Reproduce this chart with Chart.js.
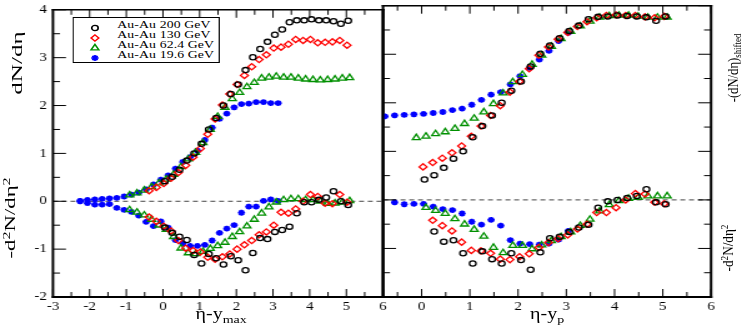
<!DOCTYPE html>
<html><head><meta charset="utf-8">
<script src="https://cdn.jsdelivr.net/npm/chart.js@4.4.1/dist/chart.umd.min.js"></script>
<style>
html,body{margin:0;padding:0;background:#fff;overflow:hidden;width:747px;height:327px}
#stage{position:absolute;left:0;top:0;width:598px;height:327px;transform:scaleX(1.2492);transform-origin:0 0;font-family:"Liberation Serif","Times New Roman",serif;color:#000}
#stage canvas{position:absolute;top:0}
.rt{position:absolute;white-space:nowrap;line-height:1;transform-origin:50% 50%}
.xt{position:absolute;white-space:nowrap;line-height:16px;height:16px}
.sp{font-size:70%;vertical-align:0.45em;line-height:0}
.sb{font-size:70%;vertical-align:-0.35em;line-height:0}
.lbox{position:absolute;left:58.4px;top:17px;width:117.7px;height:46px;border:1px solid #000;box-sizing:border-box;background:#fff}
.lt{position:absolute;height:11px;line-height:11px;font-size:11px;white-space:nowrap;letter-spacing:0.1px}
.lm{position:absolute;width:10px;height:10px;overflow:visible}
</style></head>
<body>
<div id="stage">
  <canvas id="cL" width="320" height="327" style="left:0px"></canvas>
  <canvas id="cR" width="302" height="327" style="left:296px"></canvas>

  <div class="rt" style="left:14.4px;top:63px;font-size:12px;transform:translate(-50%,-50%) rotate(-90deg) scaleX(2.1)">dN/dη</div>
  <div class="rt" style="left:7.5px;top:218px;font-size:12px;transform:translate(-50%,-50%) rotate(-90deg) scaleX(1.9)">-d<span class="sp">2</span>N/dη<span class="sp">2</span></div>
  <div class="rt" style="left:586.5px;top:68px;font-size:11px;transform:translate(-50%,-50%) rotate(-90deg) scaleX(1.15)">-(dN/dη)<span class="sb">shifted</span></div>
  <div class="rt" style="left:582.5px;top:248px;font-size:11px;transform:translate(-50%,-50%) rotate(-90deg) scaleX(1.2)">-d<span class="sp">2</span>N/dη<span class="sp">2</span></div>

  <div class="xt" style="left:177px;top:305.5px;font-size:16px;transform:translateX(-50%)">η-y<span class="sb">max</span></div>
  <div class="xt" style="left:438px;top:305.5px;font-size:16px;transform:translateX(-50%)">η-y<span class="sb">p</span></div>

  <div class="lbox"></div>
  <div id="legendRows"></div>
</div>
<script>
// ---------- tick labels / axis ranges ----------
const LEFT_X_TICKS  = [-3,-2,-1,0,1,2,3,4,5,6];
const LEFT_X_MINOR  = [-2.5,-1.5,-0.5,0.5,1.5,2.5,3.5,4.5,5.5];
const RIGHT_X_TICKS = [0,1,2,3,4,5,6];
const RIGHT_X_MINOR = [-0.5,0.5,1.5,2.5,3.5,4.5,5.5];
const Y_TICKS = [-2,-1,0,1,2,3,4];
const Y_MINOR = [-1.5,-0.5,0.5,1.5,2.5,3.5];
const LEFT_X_RANGE  = [-3, 6];
const RIGHT_X_RANGE = [-0.8, 6];
const Y_RANGE = [-2, 4];
const SERIES_LABELS = ['Au-Au 200 GeV','Au-Au 130 GeV','Au-Au 62.4 GeV','Au-Au 19.6 GeV'];

// ---------- left panel: eta - y_max ----------
const L_X_200 = [0.05,0.25,0.45,0.65,0.85,1.05,1.25,1.45,1.65,1.85,2.05,2.25,2.45,2.65,2.85,3.05,3.25,3.45,3.65,3.85,4.05,4.25,4.45,4.65,4.85,5.05];
const L_DN_200 = [0.42,0.51,0.66,0.85,1.00,1.20,1.50,1.74,2.00,2.24,2.44,2.74,3.01,3.18,3.33,3.48,3.59,3.74,3.78,3.78,3.80,3.78,3.78,3.76,3.71,3.77];
const L_D2_200 = [-0.55,-0.66,-0.74,-0.81,-1.12,-1.30,-1.10,-1.19,-1.32,-1.15,-1.23,-1.44,-1.08,-0.77,-0.79,-0.64,-0.60,-0.53,-0.25,-0.02,-0.02,0.03,0.08,0.21,0.00,-0.08];

const L_X_130 = [-0.38,-0.18,0.02,0.22,0.42,0.62,0.82,1.02,1.22,1.42,1.62,1.82,2.02,2.22,2.42,2.62,2.82,3.02,3.22,3.42,3.62,3.82,4.02,4.22,4.42,4.62,4.82,5.02];
const L_DN_130 = [0.22,0.29,0.37,0.48,0.60,0.75,0.92,1.10,1.40,1.72,2.01,2.24,2.44,2.63,2.81,2.96,3.06,3.20,3.22,3.28,3.38,3.36,3.38,3.31,3.32,3.33,3.36,3.26];
const L_D2_130 = [-0.33,-0.42,-0.52,-0.62,-0.82,-0.98,-1.03,-1.06,-1.17,-1.21,-1.16,-1.10,-1.00,-0.91,-0.82,-0.70,-0.64,-0.50,-0.23,-0.25,-0.16,0.00,0.14,0.10,-0.04,-0.05,0.14,-0.02];

const L_X_624 = [-0.91,-0.71,-0.51,-0.31,-0.11,0.09,0.29,0.49,0.69,0.89,1.09,1.29,1.49,1.69,1.89,2.09,2.29,2.49,2.69,2.89,3.09,3.29,3.49,3.69,3.89,4.09,4.29,4.49,4.69,4.89,5.09];
const L_DN_624 = [0.13,0.17,0.23,0.30,0.38,0.46,0.56,0.72,0.88,1.02,1.22,1.50,1.77,1.96,2.14,2.27,2.39,2.48,2.57,2.59,2.61,2.59,2.59,2.57,2.55,2.54,2.53,2.54,2.55,2.57,2.58];
const L_D2_624 = [-0.18,-0.23,-0.29,-0.38,-0.50,-0.59,-0.74,-0.98,-1.08,-1.10,-1.05,-0.99,-0.93,-0.86,-0.74,-0.64,-0.52,-0.38,-0.25,-0.12,-0.02,0.03,0.05,0.05,0.03,0.03,0.00,-0.05,-0.04,-0.02,0.01];

const L_X_196 = [-2.26,-2.06,-1.86,-1.66,-1.46,-1.26,-1.06,-0.86,-0.66,-0.46,-0.26,-0.06,0.14,0.34,0.54,0.74,0.94,1.14,1.34,1.54,1.74,1.94,2.14,2.34,2.54,2.74,2.94,3.14];
const L_DN_196 = [0.01,0.03,0.04,0.05,0.06,0.07,0.10,0.14,0.18,0.25,0.35,0.45,0.54,0.68,0.82,0.92,1.06,1.28,1.54,1.72,1.83,1.96,2.03,2.04,2.07,2.07,2.05,2.05];
const L_D2_196 = [0.00,-0.04,-0.07,-0.07,-0.06,-0.14,-0.18,-0.22,-0.30,-0.43,-0.52,-0.42,-0.55,-0.81,-0.88,-0.93,-0.93,-0.91,-0.82,-0.66,-0.57,-0.50,-0.24,-0.11,-0.11,0.01,0.04,0.01];

// ---------- right panel: eta - y_p ----------
const R_X_200 = [0.06,0.26,0.46,0.66,0.86,1.06,1.26,1.46,1.66,1.86,2.06,2.26,2.46,2.66,2.86,3.06,3.26,3.46,3.66,3.86,4.06,4.26,4.46,4.66,4.86,5.06];
const R_DN_200 = [0.42,0.51,0.66,0.85,1.00,1.29,1.52,1.74,2.00,2.25,2.44,2.75,3.01,3.18,3.33,3.48,3.59,3.72,3.77,3.78,3.80,3.79,3.78,3.76,3.69,3.78];
const R_D2_200 = [null,-0.65,-0.86,-0.83,-1.10,-1.31,-1.06,-1.22,-1.31,-1.10,-1.24,-1.44,-1.08,-0.79,-0.76,-0.66,-0.57,-0.51,-0.16,-0.03,0.00,0.04,0.08,0.22,-0.05,-0.09];

const R_X_130 = [0.03,0.23,0.43,0.63,0.83,1.03,1.23,1.43,1.63,1.83,2.03,2.23,2.43,2.63,2.83,3.03,3.23,3.43,3.63,3.83,4.03,4.23,4.43,4.63,4.83,5.03];
const R_DN_130 = [0.68,0.77,0.86,0.97,1.11,1.31,1.52,1.74,1.94,2.22,2.44,2.70,2.98,3.15,3.31,3.45,3.57,3.67,3.75,3.80,3.81,3.80,3.80,3.77,3.75,3.78];
const R_D2_130 = [null,-0.42,-0.53,-0.64,-0.87,-1.04,-1.05,-1.10,-1.22,-1.23,-1.17,-1.11,-0.98,-0.88,-0.80,-0.72,-0.60,-0.50,-0.26,-0.26,-0.16,0.00,0.13,0.12,-0.05,-0.08];

const R_X_624 = [-0.11,0.09,0.29,0.49,0.69,0.89,1.09,1.29,1.49,1.69,1.89,2.09,2.29,2.49,2.69,2.89,3.09,3.29,3.49,3.69,3.89,4.09,4.29,4.49,4.69,4.89,5.09];
const R_DN_624 = [1.28,1.31,1.36,1.40,1.47,1.57,1.68,1.81,1.98,2.20,2.43,2.58,2.79,2.98,3.16,3.32,3.47,3.58,3.68,3.76,3.79,3.80,3.80,3.78,3.76,3.76,3.76];
const R_D2_624 = [null,-0.16,-0.22,-0.28,-0.39,-0.50,-0.61,-0.75,-0.98,-1.09,-0.94,-0.94,-1.01,-0.93,-0.84,-0.76,-0.66,-0.53,-0.40,-0.23,-0.10,-0.02,0.03,0.05,0.08,0.08,0.08];

const R_X_196 = [-0.76,-0.56,-0.36,-0.16,0.04,0.24,0.44,0.64,0.84,1.04,1.24,1.44,1.64,1.84,2.04,2.24,2.44,2.64,2.84,3.04];
const R_DN_196 = [1.72,1.74,1.75,1.76,1.77,1.79,1.81,1.85,1.88,1.96,2.06,2.17,2.22,2.38,2.55,2.72,2.89,3.07,3.27,3.44];
const R_D2_196 = [null,-0.05,-0.09,-0.08,-0.08,-0.14,-0.19,-0.21,-0.28,-0.45,-0.51,-0.41,-0.53,-0.83,-0.90,-0.91,-0.92,-0.90,-0.82,-0.64];

// ---------- styles ----------
const STYLES = [
  {pointStyle:'circle',   radius:2.6, color:'#000000', bw:1.3},
  {pointStyle:'rectRot',  radius:3.1, color:'#ff0000', bw:1.3},
  {pointStyle:'triangle', radius:3.6, color:'#009000', bw:1.3},
  {pointStyle:'star',     radius:2.9, color:'#0000ff', bw:1.7}
];
const FONT = '"Liberation Serif","Times New Roman",serif';

function pts(xs, ys){ return xs.map((x,i)=>({x:x, y:ys[i]})); }
function ds(xs, ys, st){
  return {data:pts(xs,ys), showLine:false, pointStyle:st.pointStyle, pointRadius:st.radius,
          pointBorderColor:st.color, borderColor:st.color, pointBackgroundColor:'rgba(0,0,0,0)',
          backgroundColor:'rgba(0,0,0,0)', pointBorderWidth:st.bw};
}
function zeroLine(range){
  return {data:[{x:range[0],y:0},{x:range[1],y:0}], showLine:true, pointRadius:0,
          borderColor:'#444', borderWidth:1, borderDash:[4,3]};
}

const frameTicks = {
  id:'frameTicks',
  afterDatasetsDraw(chart, args, o){
    const ctx = chart.ctx, a = chart.chartArea, xs = chart.scales.x, ys = chart.scales.y;
    ctx.save(); ctx.strokeStyle = '#000'; ctx.setLineDash([]);
    const seg = (x1,y1,x2,y2,w)=>{ctx.lineWidth=w;ctx.beginPath();ctx.moveTo(x1,y1);ctx.lineTo(x2,y2);ctx.stroke();};
    const xt = (vals,len)=>vals.forEach(v=>{const p=xs.getPixelForValue(v); seg(p,a.bottom,p,a.bottom-len,1); seg(p,a.top,p,a.top+len,1);});
    const yt = (vals,len)=>vals.forEach(v=>{const p=ys.getPixelForValue(v);
        if(o.left) seg(a.left,p,a.left+len,p,1); if(o.right) seg(a.right,p,a.right-len,p,1);});
    xt(o.xMajor,8); xt(o.xMinor,5); yt(Y_TICKS,10.4); yt(Y_MINOR,5.6);
    seg(a.left-1,a.top,a.right+1,a.top,1.5);
    seg(a.left-1,a.bottom,a.right+1,a.bottom,2);
    seg(a.left,a.top-0.75,a.left,a.bottom+1,2);
    seg(a.right,a.top-0.75,a.right,a.bottom+1,2);
    ctx.restore();
  }
};

function makeChart(id, datasets, xRange, xTicks, xMinor, padding, showY, leftT, rightT){
  return new Chart(document.getElementById(id), {
    type:'scatter',
    data:{datasets:datasets},
    options:{
      responsive:false, animation:false, devicePixelRatio:1, events:[],
      layout:{padding:padding},
      plugins:{legend:{display:false}, tooltip:{enabled:false},
               frameTicks:{xMajor:xTicks, xMinor:xMinor, left:leftT, right:rightT}},
      scales:{
        x:{type:'linear', min:xRange[0], max:xRange[1],
           grid:{display:false, drawTicks:false}, border:{display:false},
           ticks:{font:{family:FONT, size:12}, color:'#000', padding:3, autoSkip:false, maxRotation:0},
           afterBuildTicks:s=>{ s.ticks = xTicks.map(v=>({value:v})); },
           afterFit:s=>{ s.height = 30; }},
        y:{type:'linear', min:Y_RANGE[0], max:Y_RANGE[1], display:showY,
           grid:{display:false, drawTicks:false}, border:{display:false},
           ticks:{font:{family:FONT, size:12, lineHeight:0.8}, color:'#000', padding:5, autoSkip:false},
           afterBuildTicks:s=>{ s.ticks = Y_TICKS.map(v=>({value:v})); },
           afterFit:s=>{ s.width = showY ? 42.4 : 0; }}
      }
    },
    plugins:[frameTicks]
  });
}

const leftSets = [
  ds(L_X_200,L_DN_200,STYLES[0]), ds(L_X_200,L_D2_200,STYLES[0]),
  ds(L_X_130,L_DN_130,STYLES[1]), ds(L_X_130,L_D2_130,STYLES[1]),
  ds(L_X_624,L_DN_624,STYLES[2]), ds(L_X_624,L_D2_624,STYLES[2]),
  ds(L_X_196,L_DN_196,STYLES[3]), ds(L_X_196,L_D2_196,STYLES[3]),
  zeroLine(LEFT_X_RANGE)
];
const rightSets = [
  ds(R_X_200,R_DN_200,STYLES[0]), ds(R_X_200,R_D2_200,STYLES[0]),
  ds(R_X_130,R_DN_130,STYLES[1]), ds(R_X_130,R_D2_130,STYLES[1]),
  ds(R_X_624,R_DN_624,STYLES[2]), ds(R_X_624,R_D2_624,STYLES[2]),
  ds(R_X_196,R_DN_196,STYLES[3]), ds(R_X_196,R_D2_196,STYLES[3]),
  zeroLine(RIGHT_X_RANGE)
];

makeChart('cL', leftSets, LEFT_X_RANGE, LEFT_X_TICKS, LEFT_X_MINOR, {left:0,right:13.4,top:5,bottom:0}, true, true, false);
makeChart('cR', rightSets, RIGHT_X_RANGE, RIGHT_X_TICKS, RIGHT_X_MINOR, {left:10.6,right:28.8,top:5,bottom:0}, false, true, true);

// ---------- legend (HTML) ----------
const MARKER_SVG = [
  '<circle cx="5" cy="5" r="2.6" fill="none" stroke="#000" stroke-width="1.3"/>',
  '<polygon points="5,1.9 8.1,5 5,8.1 1.9,5" fill="none" stroke="#ff0000" stroke-width="1.3"/>',
  '<polygon points="5,1.4 8.12,6.8 1.88,6.8" fill="none" stroke="#009000" stroke-width="1.3"/>',
  '<g stroke="#0000ff" stroke-width="1.7"><line x1="2.1" y1="5" x2="7.9" y2="5"/><line x1="5" y1="2.1" x2="5" y2="7.9"/><line x1="2.95" y1="2.95" x2="7.05" y2="7.05"/><line x1="7.05" y1="2.95" x2="2.95" y2="7.05"/></g>'
];
const rows = document.getElementById('legendRows');
SERIES_LABELS.forEach((lab,i)=>{
  const cy = 24.3 + 10*i;
  const m = document.createElement('div');
  m.className='lm'; m.style.left='70.5px'; m.style.top=(cy-5)+'px';
  m.innerHTML = '<svg width="10" height="10" viewBox="0 0 10 10" style="overflow:visible">'+MARKER_SVG[i]+'</svg>';
  rows.appendChild(m);
  const t = document.createElement('div');
  t.className='lt'; t.style.left='93.9px'; t.style.top=(cy-5.5)+'px'; t.textContent = lab;
  rows.appendChild(t);
});
</script>
</body></html>
